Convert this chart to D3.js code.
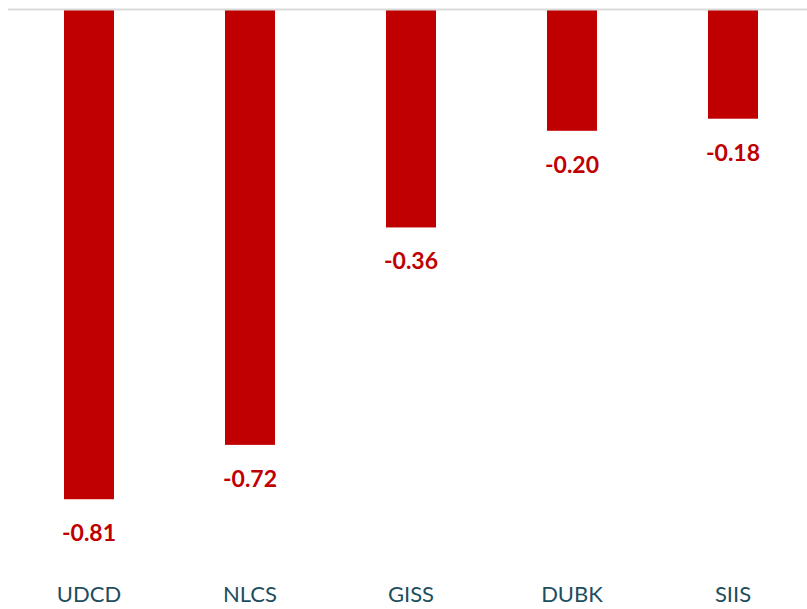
<!DOCTYPE html>
<html>
<head>
<meta charset="utf-8">
<script src="https://cdn.jsdelivr.net/npm/d3@7"></script>
<style>
  body { margin: 0; background: #fff; }
</style>
</head>
<body>
<div id="vis"></div>
<script>
// chart data
var categories = ["UDCD", "NLCS", "GISS", "DUBK", "SIIS"];
var values = [-0.81, -0.72, -0.36, -0.20, -0.18];

var width = 807,
    height = 609,
    top0 = 10;

// plain hyphen instead of d3's unicode minus
var fmt = d3.formatLocale({ decimal: ".", thousands: ",", grouping: [3], currency: ["", ""], minus: "-" }).format(".2f");

var svg = d3.select("#vis").append("svg")
    .attr("width", width)
    .attr("height", height);

// band step of 161px, bar 50px wide
var x = d3.scaleBand()
    .domain(categories)
    .range([8.5, 813.5])
    .paddingInner(111 / 161)
    .paddingOuter(111 / 161 / 2);

var y = d3.scaleLinear()
    .domain([0, -1])
    .range([top0, top0 + 604]);

// bars
svg.selectAll("rect.bar")
    .data(values)
  .enter().append("rect")
    .attr("class", "bar")
    .attr("x", function(d, i) { return x(categories[i]); })
    .attr("y", y(0))
    .attr("width", x.bandwidth())
    .attr("height", function(d) { return y(d) - y(0); })
    .attr("fill", "#c00000");

// zero line
svg.append("line")
    .attr("x1", 8)
    .attr("x2", width)
    .attr("y1", y(0) - 0.5)
    .attr("y2", y(0) - 0.5)
    .attr("stroke", "#d9d9d9")
    .attr("stroke-width", 2);

// value labels
svg.selectAll("text.val")
    .data(values)
  .enter().append("text")
    .attr("class", "val")
    .attr("x", function(d, i) { return x(categories[i]) + x.bandwidth() / 2; })
    .attr("y", function(d) { return y(d) + 42; })
    .attr("text-anchor", "middle")
    .attr("font-family", "Lato, 'Open Sans', sans-serif")
    .attr("font-weight", "bold")
    .attr("font-size", "23px")
    .attr("fill", "#c00000")
    .text(function(d) { return fmt(d); });

// category labels
svg.selectAll("text.cat")
    .data(categories)
  .enter().append("text")
    .attr("class", "cat")
    .attr("x", function(d) { return x(d) + x.bandwidth() / 2; })
    .attr("y", 602)
    .attr("text-anchor", "middle")
    .attr("font-family", "Lato, 'Open Sans', sans-serif")
    .attr("font-size", "22px")
    .attr("fill", "#1d4e5e")
    .text(function(d) { return d; });
</script>
</body>
</html>
